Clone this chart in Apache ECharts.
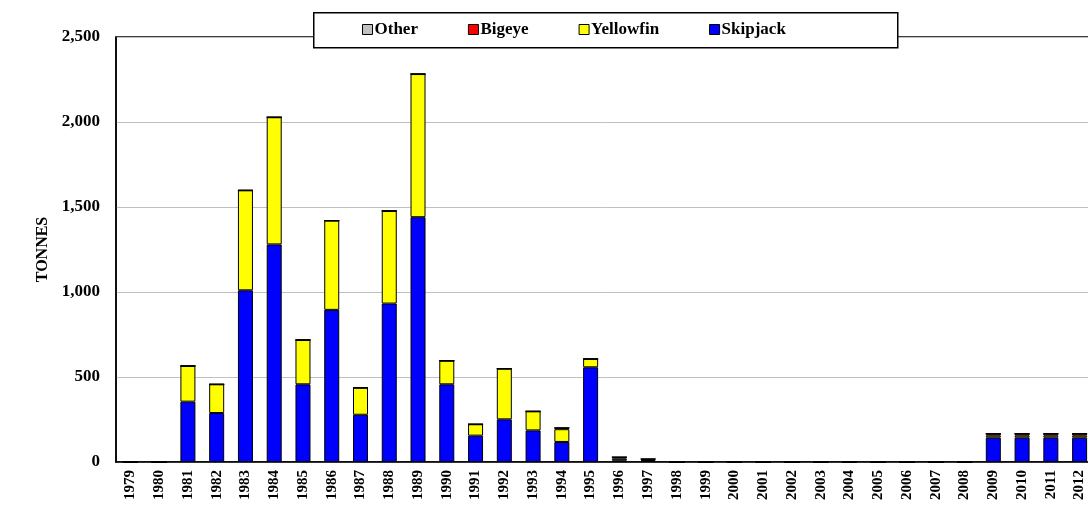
<!DOCTYPE html>
<html><head><meta charset="utf-8">
<script src="https://cdn.jsdelivr.net/npm/echarts@6/dist/echarts.min.js"></script>
<style>html,body{margin:0;padding:0;background:#fff}#c{width:1088px;height:506px}</style>
</head><body><div id="c"></div>
<script>
const years = ['1979','1980','1981','1982','1983','1984','1985','1986','1987','1988','1989','1990','1991','1992','1993','1994','1995','1996','1997','1998','1999','2000','2001','2002','2003','2004','2005','2006','2007','2008','2009','2010','2011','2012'];
const skipjack  = [0,0,355,288,1010,1280,457,895,278,932,1440,457,155,251,186,118,557,10,6,0,0,0,0,0,0,0,0,0,0,0,143,143,143,143];
const yellowfin = [0,0,210,169,588,748,261,525,159,545,842,139,67,298,112,75,49,10,6,0,0,0,0,0,0,0,0,0,0,0,12,12,12,12];
const bigeye    = [0,0,0,0,0,0,0,0,0,0,0,0,0,0,0,8,0,9,6,0,0,0,0,0,0,0,0,0,0,0,12,12,12,12];
const other     = [0,0,0,0,0,0,0,0,0,0,0,0,0,0,0,0,0,0,0,0,0,0,0,0,0,0,0,0,0,0,0,0,0,0];
const yTicks = {min:0, max:2500, interval:500};

const font = 'Liberation Serif';
function mk(name, data, color){
  return {name, type:'bar', stack:'t', data, barWidth:15,
    itemStyle:{color, borderColor:'#000', borderWidth:1}};
}
const chart = echarts.init(document.getElementById('c'), null, {renderer:'canvas'});
chart.setOption({
  animation:false,
  backgroundColor:'#fff',
  grid:{left:116, top:37, width:978, bottom:44, show:true, borderColor:'#000', borderWidth:1.5,
    containLabel:false, outerBoundsMode:'none'},
  legend:{data:['Other','Bigeye','Yellowfin','Skipjack'], left:357, top:16, itemGap:50, itemWidth:10, itemHeight:10,
    icon:'rect', itemStyle:{borderColor:'#000', borderWidth:1}, z:20,
    textStyle:{fontFamily:font, fontWeight:'bold', fontSize:17, color:'#000', padding:[0,0,0,-3]}},
  graphic:[{type:'rect', left:313, top:12, z:10, shape:{width:584, height:35},
    style:{fill:'#fff', stroke:'#000', lineWidth:1.5}}],
  xAxis:{type:'category', data:years, axisTick:{show:false},
    axisLine:{lineStyle:{color:'#000', width:1.5}},
    axisLabel:{rotate:90, interval:0, margin:8, fontFamily:font, fontWeight:'bold', fontSize:15, color:'#000'}},
  yAxis:{type:'value', min:yTicks.min, max:yTicks.max, interval:yTicks.interval,
    name:'TONNES', nameLocation:'middle', nameGap:63, nameRotate:90,
    nameTextStyle:{fontFamily:font, fontWeight:'bold', fontSize:16, color:'#000'},
    axisLine:{show:true, lineStyle:{color:'#000', width:1.5}}, axisTick:{show:false},
    splitLine:{lineStyle:{color:'#c0c0c0', width:1}},
    axisLabel:{margin:16, fontFamily:font, fontWeight:'bold', fontSize:17, color:'#000',
      formatter:v=>v.toLocaleString('en-US')}},
  series:[mk('Skipjack',skipjack,'#0000ff'), mk('Yellowfin',yellowfin,'#ffff00'), mk('Bigeye',bigeye,'#ff0000'), mk('Other',other,'#c0c0c0')]
});
</script></body></html>
